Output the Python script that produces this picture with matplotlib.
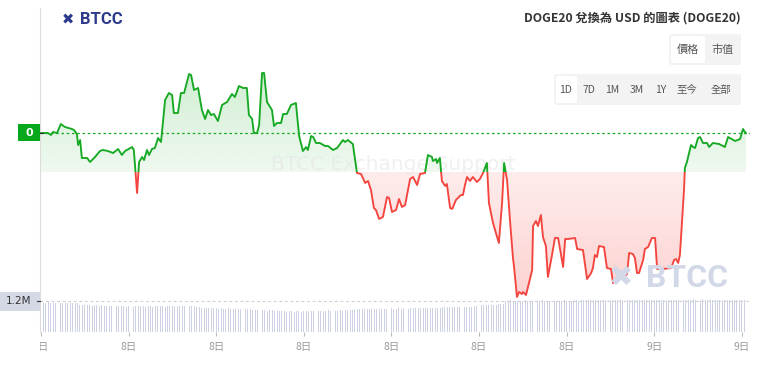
import numpy as np
import matplotlib
matplotlib.use('Agg')
import matplotlib.pyplot as plt
from matplotlib.patches import FancyBboxPatch, Rectangle, PathPatch
from matplotlib.path import Path
from matplotlib.transforms import Bbox, TransformedBbox

plt.rcParams['font.family'] = ['Noto Sans CJK TC', 'DejaVu Sans']

# ---------------- data ----------------
hours = [-0.03, 0.24, 0.34, 0.41, 0.55, 0.68, 0.82, 1.06, 1.13, 1.23, 1.27, 1.34, 1.40, 1.58, 1.68, 1.85,
         2.02, 2.12, 2.29, 2.47, 2.64, 2.77, 2.88, 3.12, 3.18, 3.29, 3.36, 3.46, 3.53, 3.63, 3.70, 3.80,
         3.90, 4.01, 4.11, 4.25, 4.38, 4.49, 4.55, 4.69, 4.79, 4.90, 5.07, 5.14, 5.24, 5.38, 5.51, 5.62,
         5.72, 5.82, 5.92, 6.06, 6.20, 6.37, 6.54, 6.64, 6.78, 6.92, 7.05, 7.12, 7.23, 7.29, 7.40, 7.47,
         7.57, 7.64, 7.74, 7.91, 7.98, 8.08, 8.22, 8.29, 8.42, 8.56, 8.73, 8.84, 8.97, 9.08, 9.14, 9.25,
         9.32, 9.42, 9.55, 9.73, 9.83, 10.00, 10.14, 10.34, 10.41, 10.51, 10.68, 10.82, 10.96, 11.10, 11.20, 11.30,
         11.40, 11.47, 11.58, 11.71, 11.85, 11.92, 12.02, 12.16, 12.26, 12.36, 12.47, 12.64, 12.74, 12.88, 12.98, 13.15,
         13.25, 13.39, 13.42, 13.53, 13.56, 13.66, 13.73, 13.84, 13.90, 14.01, 14.08, 14.21, 14.38, 14.45, 14.52, 14.59,
         14.69, 14.79, 14.93, 15.03, 15.14, 15.27, 15.34, 15.48, 15.62, 15.68, 15.79, 15.86, 15.96, 16.06, 16.16, 16.20,
         16.30, 16.37, 16.47, 16.51, 16.61, 16.71, 16.82, 16.85, 16.95, 17.02, 17.12, 17.19, 17.29, 17.36, 17.50, 17.60,
         17.71, 17.88, 17.95, 18.05, 18.29, 18.36, 18.56, 18.70, 18.84, 18.90, 18.97, 19.04, 19.11, 19.28, 19.38, 19.52,
         19.59, 19.83, 20.00, 20.07, 20.14, 20.27, 20.34, 20.41, 20.48, 20.62, 20.68, 20.79, 20.92, 21.03, 21.10, 21.30,
         21.58, 21.68, 21.75, 21.82, 21.88, 22.02, 22.05, 22.12, 22.26, 22.33, 22.40, 22.50, 22.57, 22.67, 22.81, 22.88,
         23.01, 23.22, 23.42, 23.53, 23.77, 23.94, 24.04, 24.08, 24.14]

prices = [169.5, 169.5, 168.5, 170, 169.5, 174, 172.5, 171.5, 171, 169, 163.5, 166, 157, 157, 155, 157.5,
          160.5, 161, 160.5, 159.5, 161.5, 158.5, 160.5, 162.5, 161, 139.5, 155, 157.5, 156, 161, 158.5, 161.5,
          162, 167, 165, 186, 189.5, 188.5, 179.5, 179.5, 189.5, 189.5, 199, 198.5, 191, 192, 181, 176.5,
          181, 178.5, 179, 175.5, 183.5, 185, 189, 187.5, 193, 192, 192, 178.5, 176.5, 169.5, 169.5, 173.5,
          199.5, 199.5, 185, 181, 173, 174.5, 174.5, 179, 179, 183.5, 184.5, 168, 160.5, 162.5, 161, 168,
          167.5, 164.5, 164.5, 163, 163, 161, 162, 166, 165, 166, 164, 149.5, 149, 144.5, 145.5, 141,
          132, 131, 126.5, 127.5, 137.5, 137, 130, 131, 136.5, 132.5, 133.5, 146.5, 147.5, 143.5, 149, 149.5,
          158.5, 157.5, 155.5, 156.5, 154.5, 157, 145.5, 143, 144, 132, 131.5, 136, 138.5, 138.5, 143.5, 147.5,
          145.5, 147.5, 145, 146.5, 149.5, 154.5, 134.5, 124.5, 117.5, 114.5, 134.5, 154.5, 146, 126, 107.5, 102.5,
          87.5, 90, 89, 90, 88.5, 94.5, 101, 123, 125.5, 123, 128.5, 117.5, 113, 97.5, 108.5, 117,
          117, 102.5, 116.5, 116.5, 117, 111.5, 111, 96.5, 99.5, 102, 108.5, 107.5, 113, 112.5, 102, 101.5,
          94.5, 97, 98, 99, 109.5, 109, 107, 99.5, 99.5, 106, 111.5, 112.5, 117, 117, 101.5, 101.5,
          102, 106, 106.5, 104.5, 108.5, 141, 152, 155, 163.5, 162.5, 162, 167, 167.5, 164.5, 164.5, 162.5,
          164.5, 164, 162.5, 167.5, 165.5, 166.5, 171.5, 170.5, 169.5]

base_price = 150.0

# volume in millions, one bar every 5 minutes
volumes = [1.13, 1.12, 1.12, 1.13, 1.12, 1.11, 1.12, 1.12, 1.11, 1.12, 1.12, 1.11, 1.11, 1.12, 1.11, 1.10,
           1.03, 1.02, 1.02, 1.03, 1.02, 1.01, 1.02, 1.02, 1.01, 1.02, 1.01, 1.00, 1.00,
           0.99, 0.98, 0.98, 0.99, 0.98, 0.98, 0.97, 0.98, 0.98, 0.97, 0.98, 0.98, 0.99, 0.98, 0.97, 0.98,
           0.98, 0.97, 0.98, 0.99, 0.98, 0.98, 0.97, 0.98,
           0.99, 0.99, 1.00, 0.99, 0.99, 0.98, 0.99, 1.00, 0.99, 0.98, 0.98, 0.97, 0.95,
           0.92, 0.91, 0.91, 0.90, 0.91, 0.90, 0.90, 0.89, 0.90, 0.89, 0.89, 0.90, 0.89, 0.88, 0.89, 0.88,
           0.88, 0.87, 0.88, 0.87, 0.86, 0.85,
           0.84, 0.83, 0.83, 0.84, 0.83, 0.82, 0.83, 0.83, 0.82, 0.82, 0.81,
           0.79, 0.79, 0.78, 0.79, 0.79, 0.78, 0.79, 0.79, 0.78, 0.79, 0.79, 0.80, 0.80,
           0.81, 0.82, 0.82, 0.81, 0.82, 0.82, 0.83, 0.82, 0.82, 0.81, 0.82, 0.83, 0.82, 0.83, 0.84, 0.84, 0.85,
           0.86, 0.87, 0.87, 0.88, 0.87, 0.88, 0.88, 0.89, 0.88, 0.88, 0.89, 0.89, 0.88, 0.89, 0.89, 0.90,
           0.89, 0.89, 0.90, 0.89, 0.90, 0.90, 0.89, 0.90, 0.90, 0.91, 0.90, 0.90, 0.91, 0.91, 0.90, 0.91,
           0.92, 0.92, 0.93, 0.93,
           0.94, 0.94, 0.95, 0.94, 0.95, 0.95, 0.96, 0.95, 0.95, 0.96, 0.96, 0.97, 0.97, 0.98, 0.99, 1.00,
           1.02, 1.03, 1.03, 1.04, 1.04, 1.05, 1.05, 1.06, 1.06, 1.07,
           1.20, 1.20, 1.21, 1.20, 1.20, 1.19, 1.20, 1.20, 1.21, 1.20, 1.20, 1.20, 1.19, 1.20, 1.20, 1.21,
           1.20, 1.20, 1.20, 1.21, 1.20, 1.19, 1.20, 1.20, 1.21, 1.20, 1.20, 1.20, 1.21, 1.21, 1.20, 1.21,
           1.21, 1.22, 1.22, 1.22,
           1.22, 1.23, 1.22, 1.22, 1.23, 1.22, 1.22, 1.22, 1.23, 1.22, 1.22, 1.21, 1.22, 1.22, 1.21, 1.22,
           1.22, 1.22, 1.21, 1.21, 1.22, 1.21, 1.21, 1.22, 1.22, 1.21, 1.21, 1.22, 1.22, 1.22, 1.23, 1.23,
           1.22, 1.23, 1.23, 1.23,
           1.24, 1.24, 1.23, 1.24, 1.24, 1.25, 1.24, 1.24, 1.24, 1.25, 1.24, 1.24, 1.25, 1.24, 1.24, 1.23,
           1.24, 1.24, 1.24, 1.23, 1.24, 1.24, 1.23, 1.23, 1.23, 1.22, 1.22]
vol_ref = 1.2

tick_hours = [0, 3, 6, 9, 12, 15, 18, 21, 24]
tick_labels = ['8日', '8日', '8日', '8日', '8日', '8日', '8日', '9日', '9日']

title = 'DOGE20 兌換為 USD 的圖表 (DOGE20)'
toggle_labels = ['價格', '市值']
range_labels = ['1D', '7D', '1M', '3M', '1Y', '至今', '全部']

# ---------------- styling ----------------
GREEN = '#16a923'
RED = '#f4443e'
W, H = 763, 368
fig = plt.figure(figsize=(W / 100, H / 100), dpi=100)


def fr(x0, y0, x1, y1):
    return [x0 / W, 1 - y1 / H, (x1 - x0) / W, (y1 - y0) / H]


def fx(x):
    return x / W


def fy(y):
    return 1 - y / H


ax = fig.add_axes(fr(40, 8, 750, 300))
axv = fig.add_axes(fr(40, 299, 750, 332))

t = np.array(hours)
p = np.array(prices)
xmin, xmax = -0.034, 24.28
ymin, ymax = 86, 232

# gradient fills
def gradient_fill(mask_above, rgb, a_far, a_near):
    if mask_above:
        fb = ax.fill_between(t, p, base_price, where=p >= base_price, interpolate=True,
                             facecolor='none', edgecolor='none')
        ext = [t.min(), t.max(), base_price, p.max()]
        alphas = np.linspace(a_far, a_near, 256)
    else:
        fb = ax.fill_between(t, p, base_price, where=p <= base_price, interpolate=True,
                             facecolor='none', edgecolor='none')
        ext = [t.min(), t.max(), p.min(), base_price]
        alphas = np.linspace(a_near, a_far, 256)
    path = Path.make_compound_path(*fb.get_paths())
    patch = PathPatch(path, transform=ax.transData, facecolor='none', edgecolor='none')
    ax.add_patch(patch)
    img = np.zeros((256, 1, 4))
    img[..., :3] = matplotlib.colors.to_rgb(rgb)
    img[:, 0, 3] = alphas
    im = ax.imshow(img, extent=ext, aspect='auto', origin='upper', zorder=1, interpolation='bilinear')
    im.set_clip_path(patch)


gradient_fill(True, GREEN, 0.20, 0.07)
gradient_fill(False, RED, 0.24, 0.10)

# watermark text (above fill, below line)
ax.text(0.497, fy(165) * 0 + (300 - 165) / 292, 'BTCC Exchange Support', transform=ax.transAxes,
        ha='center', va='center', fontsize=14.5, family='DejaVu Sans', color='#e6e6e6',
        alpha=0.6, zorder=2)

# line, split into green / red at the base price
lg, = ax.plot(t, p, color=GREEN, lw=1.35, zorder=3, solid_joinstyle='round')
lr, = ax.plot(t, p, color=RED, lw=1.35, zorder=3, solid_joinstyle='round')
r_above = Rectangle((xmin - 1, base_price), xmax - xmin + 2, 500, transform=ax.transData)
r_below = Rectangle((xmin - 1, base_price - 500), xmax - xmin + 2, 500, transform=ax.transData)
lg.set_clip_path(r_above)
lr.set_clip_path(r_below)

# last price dashed line
ax.axhline(p[-1], color=GREEN, lw=0.9, dashes=(2, 2.2), zorder=2)

ax.set_xlim(xmin, xmax)
ax.set_ylim(ymin, ymax)
for s in ['top', 'right', 'bottom']:
    ax.spines[s].set_visible(False)
ax.spines['left'].set_color('#dcdcdc')
ax.set_xticks([])
ax.set_yticks([])
ax.patch.set_alpha(0)

# volume bars
vt = np.arange(len(volumes)) * 5 / 60
axv.bar(vt, volumes, width=0.032, color='#ccd1e4', linewidth=0, align='center')
axv.axhline(vol_ref, color='#cfcfcf', lw=0.8, dashes=(2.5, 2.5))
axv.set_xlim(xmin, xmax)
axv.set_ylim(0, 1.26)
for s in ['top', 'right', 'bottom']:
    axv.spines[s].set_visible(False)
axv.spines['left'].set_color('#dcdcdc')
axv.set_yticks([])
axv.set_xticks(tick_hours)
axv.set_xticklabels(tick_labels)
axv.tick_params(axis='x', length=3, color='#bbbbbb', labelcolor='#9a9a9a', labelsize=7.5, pad=4)
axv.patch.set_alpha(0)
first = axv.get_xticklabels()[0]
first.set_clip_box(TransformedBbox(Bbox([[0, -5], [1, 2]]), axv.transAxes))
first.set_clip_on(True)

# left labels
fig.add_artist(Rectangle((fx(18), fy(141)), fx(40) - fx(18), fy(124) - fy(141),
                         transform=fig.transFigure, facecolor='#07a81c', edgecolor='none'))
fig.text(fx(29), fy(132.5), '0', ha='center', va='center', color='white', fontsize=8,
         fontweight='bold', family='DejaVu Sans')
fig.add_artist(plt.Line2D([fx(40), fx(43)], [fy(133), fy(133)], color='#333333', lw=0.8,
                          transform=fig.transFigure))
fig.add_artist(Rectangle((fx(0), fy(311)), fx(40), fy(292) - fy(311),
                         transform=fig.transFigure, facecolor='#d5d9e6', edgecolor='none'))
fig.text(fx(19), fy(301.5), '1.2M', ha='center', va='center', color='#333333', fontsize=7.5,
         family='DejaVu Sans')
fig.add_artist(plt.Line2D([fx(37), fx(40)], [fy(301), fy(301)], color='#333333', lw=0.8,
                          transform=fig.transFigure))

# logos
fig.text(fx(62), fy(20), '✖', ha='left', va='center', color='#2d3a8c', fontsize=10.5,
         family='DejaVu Sans', fontweight='bold')
fig.text(fx(80), fy(20), 'BTCC', ha='left', va='center', color='#2d3a8c', fontsize=12,
         family='Roboto', fontweight='bold')
fig.text(fx(609), fy(278), '✖', ha='left', va='center', color='#d3d8e8', fontsize=21,
         family='DejaVu Sans', fontweight='bold', zorder=0)
fig.text(fx(646), fy(278), 'BTCC', ha='left', va='center', color='#d3d8e8', fontsize=23,
         family='Roboto', fontweight='bold', zorder=0)

# title
fig.text(fx(741), fy(18), title, ha='right', va='center', color='#333333', fontsize=8.8,
         fontweight='bold')

# toggle buttons
def box(x0, y0, x1, y1, fc):
    fig.add_artist(FancyBboxPatch((fx(x0), fy(y1)), fx(x1) - fx(x0), fy(y0) - fy(y1),
                                  boxstyle='round,pad=0,rounding_size=0.004',
                                  transform=fig.transFigure, facecolor=fc, edgecolor='none'))

box(669, 34, 741, 65, '#f3f3f3')
box(671, 36, 705, 63, '#ffffff')
for lab, x in zip(toggle_labels, [688, 722]):
    fig.text(fx(x), fy(50), lab, ha='center', va='center', color='#555555', fontsize=8)

box(554, 74, 741, 105, '#f3f3f3')
box(556, 76, 577, 103, '#ffffff')
for lab, x in zip(range_labels, [566, 589, 612, 637, 661, 687, 721]):
    fig.text(fx(x), fy(90), lab, ha='center', va='center', color='#555555', fontsize=7.5)

fig.savefig('out.png', dpi=100)
